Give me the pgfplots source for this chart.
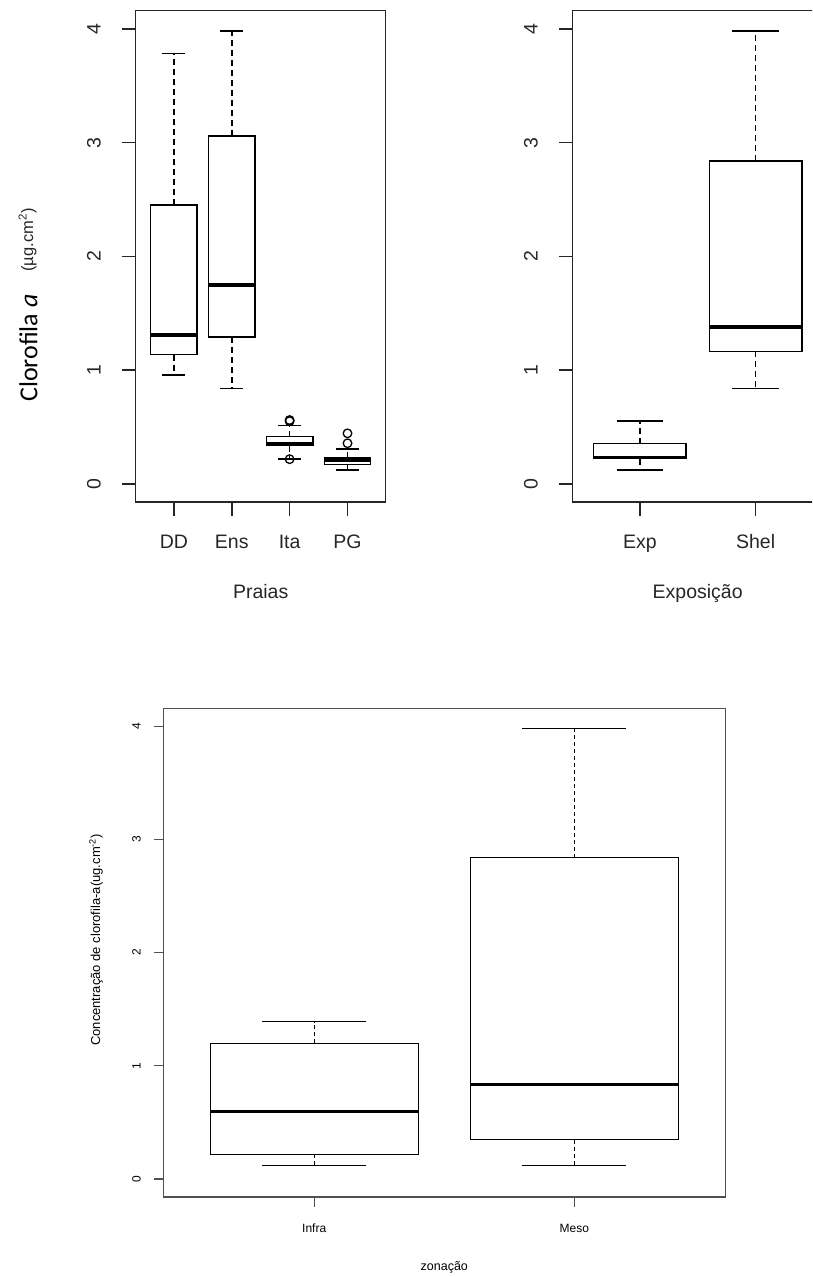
\documentclass[border=0pt]{standalone}
\usepackage{fontspec}
\setmainfont{Liberation Sans}
\newfontfamily\calibri{Carlito}
\usepackage{pgfplots}
\pgfplotsset{compat=1.18}
\usepgfplotslibrary{statistics}

\definecolor{framegray}{HTML}{505050}

\pgfplotsset{
  % R-like boxplot: dashed whisker stems, solid staples, heavy median
  rboxes/.style={
    boxplot/draw direction=y,
    boxplot/box extend=0.8,
    boxplot/whisker extend=0.4,
    boxplot/draw/lower whisker/.code={%
      \draw[rdash]
        (boxplot box cs:\pgfplotsboxplotvalue{lower quartile},0.5) --
        (boxplot box cs:\pgfplotsboxplotvalue{lower whisker},0.5);
      \draw
        (boxplot whisker cs:\pgfplotsboxplotvalue{lower whisker},0) --
        (boxplot whisker cs:\pgfplotsboxplotvalue{lower whisker},1);
    },
    boxplot/draw/upper whisker/.code={%
      \draw[rdash]
        (boxplot box cs:\pgfplotsboxplotvalue{upper quartile},0.5) --
        (boxplot box cs:\pgfplotsboxplotvalue{upper whisker},0.5);
      \draw
        (boxplot whisker cs:\pgfplotsboxplotvalue{upper whisker},0) --
        (boxplot whisker cs:\pgfplotsboxplotvalue{upper whisker},1);
    },
  },
  toppanel/.style={
    rboxes,
    scale only axis, anchor=south west,
    width=250pt, height=491.5pt,
    ymin=-0.16, ymax=4.16, ytick={0,1,2,3,4},
    axis line style={line width=1.5pt, black!85},
    tick align=outside, xtick pos=bottom, ytick pos=left,
    major tick length=14pt,
    tick style={line width=1.5pt, black!85},
    /pgf/number format/assume math mode=true,
    tick label style={font=\fontsize{19.5}{22}\selectfont, text=black!85},
    yticklabel style={xshift=-21pt, rotate=90, anchor=base},
    xticklabel style={yshift=-32.2pt, anchor=base},
    xlabel style={at={(axis description cs:0.5,0)}, anchor=base,
                  yshift=-96.8pt, font=\fontsize{19.5}{23}\selectfont, text=black!85},
    /tikz/rdash/.style={dash pattern=on 6pt off 4pt},
    boxplot/every median/.style={line width=3.6pt},
    clip=false,
  },
  toppl/.style={black, line width=1.5pt, mark=o, mark size=4.3pt,
                mark options={solid, line width=1.3pt}},
  botpl/.style={black, line width=1.2pt},
}

\begin{document}
\begin{tikzpicture}
\useasboundingbox (0pt,0pt) rectangle (812pt,1277pt);
\begin{scope}
\clip (0pt,0pt) rectangle (812pt,1277pt);

% ---- chlorophyll by beach ----
\begin{axis}[toppanel, at={(135.7pt,774.8pt)},
  xmin=0.34, xmax=4.66, xtick={1,2,3,4}, xticklabels={DD,Ens,Ita,PG},
  xlabel={Praias}]
\addplot[toppl, boxplot prepared={draw position=1,
  lower whisker=0.956, lower quartile=1.136, median=1.31,
  upper quartile=2.45, upper whisker=3.785}] coordinates {};
\addplot[toppl, boxplot prepared={draw position=2,
  lower whisker=0.84, lower quartile=1.29, median=1.75,
  upper quartile=3.06, upper whisker=3.98}] coordinates {};
\addplot[toppl, boxplot prepared={draw position=3,
  lower whisker=0.22, lower quartile=0.337, median=0.355,
  upper quartile=0.416, upper whisker=0.512}]
  table[row sep=\\, y index=0] {v\\ 0.552\\ 0.562\\ 0.218\\};
\addplot[toppl, boxplot prepared={draw position=4,
  lower whisker=0.123, lower quartile=0.173, median=0.212,
  upper quartile=0.231, upper whisker=0.307}]
  table[row sep=\\, y index=0] {v\\ 0.358\\ 0.445\\};
\end{axis}

% ---- chlorophyll by exposure ----
\begin{axis}[toppanel, at={(572.7pt,774.8pt)},
  xmin=0.42, xmax=2.58, xtick={1,2}, xticklabels={Exp,Shel},
  xlabel={Exposição}]
\addplot[toppl, boxplot prepared={draw position=1,
  lower whisker=0.125, lower quartile=0.222, median=0.233,
  upper quartile=0.355, upper whisker=0.553}] coordinates {};
\addplot[toppl, boxplot prepared={draw position=2,
  lower whisker=0.838, lower quartile=1.165, median=1.38,
  upper quartile=2.84, upper whisker=3.983}] coordinates {};
\end{axis}

% ---- chlorophyll by zonation ----
\begin{axis}[rboxes,
  scale only axis, anchor=south west, at={(163.3pt,80pt)},
  width=562pt, height=488.7pt,
  xmin=0.42, xmax=2.58, xtick={1,2}, xticklabels={Infra,Meso},
  ymin=-0.16, ymax=4.16, ytick={0,1,2,3,4},
  axis line style={line width=1.3pt, framegray},
  tick align=outside, xtick pos=bottom, ytick pos=left,
  major tick length=9.5pt,
  tick style={line width=1.3pt, framegray},
  /pgf/number format/assume math mode=true,
  tick label style={font=\fontsize{12}{14}\selectfont},
  yticklabel style={xshift=-13.1pt, rotate=90, anchor=base},
  xticklabel style={yshift=-26.2pt, anchor=base},
  xlabel={zonação},
  xlabel style={at={(axis description cs:0.5,0)}, anchor=base,
                yshift=-73pt, font=\fontsize{12.5}{15}\selectfont},
  /tikz/rdash/.style={dash pattern=on 4pt off 3pt},
  boxplot/every median/.style={line width=3pt},
  clip=false]
\addplot[botpl, boxplot prepared={draw position=1,
  lower whisker=0.121, lower quartile=0.218, median=0.598,
  upper quartile=1.2, upper whisker=1.388}] coordinates {};
\addplot[botpl, boxplot prepared={draw position=2,
  lower whisker=0.121, lower quartile=0.348, median=0.831,
  upper quartile=2.838, upper whisker=3.98}] coordinates {};
\end{axis}

% y-axis titles
\node[rotate=90, anchor=base, inner sep=0pt] at (37.3pt,929pt)
  {\calibri\fontsize{26}{30}\selectfont Clorofila \textit{a}};
\node[rotate=90, anchor=base, inner sep=0pt, text=black!85] at (33pt,1037pt)
  {\fontsize{16.5}{19}\selectfont (µg.cm\textsuperscript{2})};
\node[rotate=90, anchor=base, inner sep=0pt] at (100pt,337pt)
  {\fontsize{13}{15}\selectfont Concentração de clorofila-a(ug.cm\textsuperscript{-2})};
\end{scope}
\end{tikzpicture}
\end{document}
